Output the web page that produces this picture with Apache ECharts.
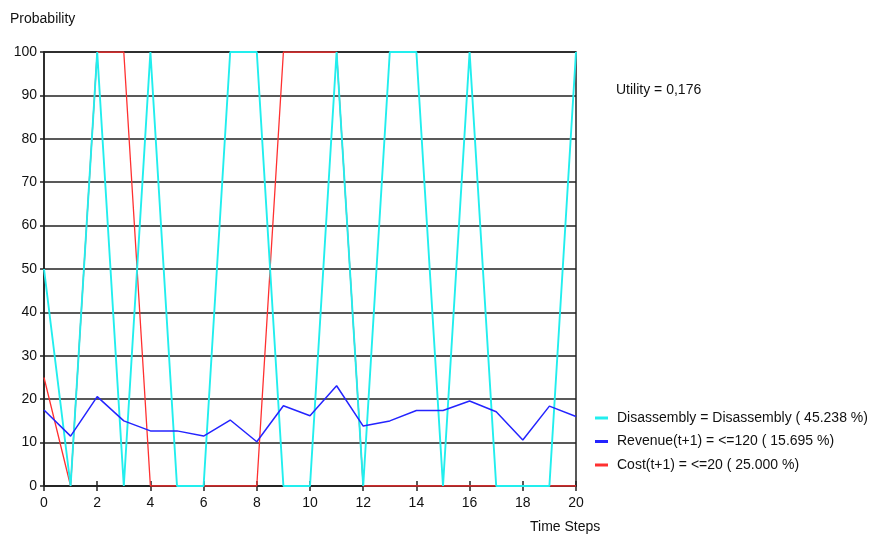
<!DOCTYPE html>
<html>
<head>
<meta charset="utf-8">
<script src="https://cdn.jsdelivr.net/npm/echarts@6/dist/echarts.min.js"></script>
<style>
  html, body { margin: 0; padding: 0; background: #fff; }
  #chart { width: 887px; height: 539px; }
</style>
</head>
<body>
<div id="chart"></div>
<script>
// time steps 0..20
var steps = [0, 1, 2, 3, 4, 5, 6, 7, 8, 9, 10, 11, 12, 13, 14, 15, 16, 17, 18, 19, 20];
var disassembly = [50, 0, 100, 0, 100, 0, 0, 100, 100, 0, 0, 100, 0, 100, 100, 0, 100, 0, 0, 0, 100];
var revenue = [17.5, 11.5, 20.6, 15.0, 12.7, 12.7, 11.5, 15.2, 10.2, 18.5, 16.2, 23.1, 13.8, 15.0, 17.4, 17.4, 19.6, 17.1, 10.6, 18.4, 16.0];
var cost = [25, 0, 100, 100, 0, 0, 0, 0, 0, 100, 100, 100, 0, 0, 0, 0, 0, 0, 0, 0, 0];
var seriesNames = ['Disassembly = Disassembly ( 45.238 %)', 'Revenue(t+1) = <=120 ( 15.695 %)', 'Cost(t+1) = <=20 ( 25.000 %)'];
var xTicks = [0, 2, 4, 6, 8, 10, 12, 14, 16, 18, 20];
var yTicks = [0, 10, 20, 30, 40, 50, 60, 70, 80, 90, 100];

function pairs(vals) {
    return steps.map(function (s, i) { return [s, vals[i]]; });
}

var chart = echarts.init(document.getElementById('chart'));
var font = 'Arial, "Liberation Sans", sans-serif';

var option = {
    animation: false,
    backgroundColor: '#fff',
    textStyle: { fontFamily: font },
    grid: {
        left: 44, right: 311, top: 52, bottom: 53,
        show: true, borderColor: '#222', borderWidth: 1.5, backgroundColor: 'transparent'
    },
    legend: {
        orient: 'vertical',
        left: 590,
        top: 406,
        icon: 'rect',
        itemWidth: 13,
        itemHeight: 3,
        itemGap: 9.5,
        data: seriesNames,
        textStyle: { fontFamily: font, fontSize: 14, color: '#111', lineHeight: 14, padding: [0, 0, 0, 4] }
    },
    xAxis: [{
        type: 'value',
        min: 0, max: 20, interval: 2,
        axisLine: { show: true, lineStyle: { color: '#222', width: 1.5 } },
        axisTick: { show: true, length: 5, lineStyle: { color: '#222', width: 1.5 } },
        axisLabel: {
            fontSize: 14, color: '#111', margin: 10,
            formatter: function (v) { return xTicks.indexOf(v) >= 0 ? String(v) : ''; }
        },
        splitLine: { show: false }
    }, {
        type: 'value',
        position: 'bottom',
        min: 0, max: 20, interval: 2,
        axisLine: { show: false },
        axisTick: { show: true, inside: true, length: 5, lineStyle: { color: '#222', width: 1.5 } },
        axisLabel: { show: false },
        splitLine: { show: false }
    }],
    yAxis: {
        type: 'value',
        min: 0, max: 100, interval: 10,
        axisLine: { show: true, lineStyle: { color: '#222', width: 1.5 } },
        axisTick: { show: true, length: 4, lineStyle: { color: '#222', width: 1.5 } },
        axisLabel: {
            fontSize: 14, color: '#111', margin: 7,
            formatter: function (v) { return yTicks.indexOf(v) >= 0 ? String(v) : ''; }
        },
        splitLine: { show: true, lineStyle: { color: '#222', width: 1.5 } }
    },
    graphic: [
        { type: 'text', left: 10, top: 12, style: { text: 'Probability', font: '14px ' + font, fill: '#111' } },
        { type: 'text', left: 530, top: 520, style: { text: 'Time Steps', font: '14px ' + font, fill: '#111' } },
        { type: 'text', left: 616, top: 83, style: { text: 'Utility = 0,176', font: '14px ' + font, fill: '#111' } }
    ],
    series: [{
        name: seriesNames[2],
        type: 'line',
        z: 2,
        showSymbol: false,
        symbol: 'none',
        color: '#ff3030',
        lineStyle: { color: '#ff3030', width: 1.3 },
        data: pairs(cost)
    }, {
        name: seriesNames[0],
        type: 'line',
        z: 3,
        showSymbol: false,
        symbol: 'none',
        color: '#22eeee',
        lineStyle: { color: '#22eeee', width: 1.9 },
        data: pairs(disassembly)
    }, {
        name: seriesNames[1],
        type: 'line',
        z: 4,
        showSymbol: false,
        symbol: 'none',
        color: '#2424ff',
        lineStyle: { color: '#2424ff', width: 1.5 },
        data: pairs(revenue)
    }]
};

chart.setOption(option);
</script>
</body>
</html>
